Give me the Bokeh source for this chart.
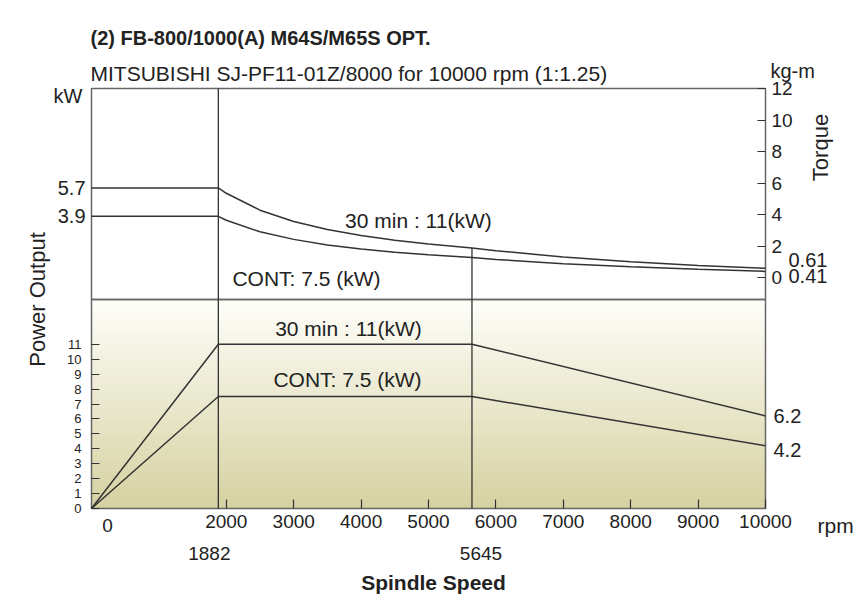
import math
import numpy as np
from bokeh.plotting import figure
from bokeh.models import Range1d, LinearAxis, FixedTicker, Label
from bokeh.embed import file_html
from bokeh.resources import INLINE

# ---------------- data ----------------
speed_power = [0, 1882, 5645, 10000]
power_30min = [0, 11, 11, 6.2]
power_cont = [0, 7.5, 7.5, 4.2]

torque_speed = [0, 1882, 2000, 2500, 3000, 3500, 4000, 4500, 5000, 5645,
                6000, 7000, 8000, 9000, 10000]
torque_30min = [5.7, 5.7, 5.36, 4.29, 3.57, 3.06, 2.68, 2.38, 2.14, 1.90,
                1.72, 1.32, 1.02, 0.79, 0.61]
torque_cont = [3.9, 3.9, 3.65, 2.92, 2.44, 2.09, 1.83, 1.62, 1.46, 1.29,
               1.17, 0.90, 0.70, 0.54, 0.41]

x_ticks = [2000, 3000, 4000, 5000, 6000, 7000, 8000, 9000, 10000]
power_ticks = [0, 1, 2, 3, 4, 5, 6, 7, 8, 9, 10, 11]
torque_ticks = [0, 2, 4, 6, 8, 10, 12]
base_speeds = [1882, 5645]

# ---------------- layout (pixels of the chart box inside the canvas) ----------------
W, H = 855, 594
PX_L, PX_R = 91, 765
PX_T, PX_MID, PX_B = 88, 299, 508
X_MIN, X_MAX = 0, 10000
KW_MIN, KW_MAX = 0.0, 14.0        # power panel
TQ_MIN, TQ_MAX = -1.37, 12.0      # torque panel

sx = (X_MAX - X_MIN) / (PX_R - PX_L)
skw = (KW_MAX - KW_MIN) / (PX_B - PX_MID)
stq = (TQ_MAX - TQ_MIN) / (PX_MID - PX_T)
x_range = Range1d(X_MIN - PX_L * sx, X_MAX + (W - PX_R) * sx)
kw_range = Range1d(KW_MIN - (H - PX_B) * skw, KW_MAX + PX_MID * skw)
tq_range = Range1d(TQ_MIN - (H - PX_MID) * stq, TQ_MAX + PX_T * stq)

# ---------------- styling ----------------
FONT = "Liberation Sans"
TXT = "#222222"
LINE = "#333333"
EDGE = "#666666"

p = figure(width=W, height=H, output_backend="svg", toolbar_location=None,
           x_range=x_range, y_range=kw_range, min_border=0,
           min_border_left=0, min_border_right=0, min_border_top=0, min_border_bottom=0)
p.extra_y_ranges = {"torque": tq_range}
p.grid.visible = False
p.outline_line_color = None
p.background_fill_color = "white"
p.border_fill_color = "white"

# gradient background of power panel (decoration)
N = 80
edges = np.linspace(KW_MIN, KW_MAX, N + 1)
top_rgb = np.array([254, 254, 250])
bot_rgb = np.array([214, 209, 160])
cols = []
for i in range(N):
    t = (i + 0.5) / N
    c = bot_rgb * (1 - t) + top_rgb * t
    cols.append("#%02x%02x%02x" % tuple(int(round(v)) for v in c))
p.quad(left=X_MIN, right=X_MAX, bottom=edges[:-1], top=edges[1:],
       fill_color=cols, line_color=cols, line_width=1)

# chart boxes
p.quad(left=[X_MIN], right=[X_MAX], bottom=[KW_MIN], top=[KW_MAX],
       fill_color=None, line_color=EDGE, line_width=1.5)
p.quad(left=[X_MIN], right=[X_MAX], bottom=[TQ_MIN], top=[TQ_MAX], y_range_name="torque",
       fill_color=None, line_color=EDGE, line_width=1.5)

# base speed lines
p.segment(x0=base_speeds, y0=[KW_MIN, KW_MIN], x1=base_speeds, y1=[KW_MAX, KW_MAX],
          line_color=LINE, line_width=1.3)
p.segment(x0=base_speeds, y0=[TQ_MIN, TQ_MIN], x1=base_speeds,
          y1=[TQ_MAX, torque_30min[torque_speed.index(base_speeds[1])]],
          y_range_name="torque", line_color=LINE, line_width=1.3)

# power curves
p.line(speed_power, power_30min, line_color=LINE, line_width=1.5)
p.line(speed_power, power_cont, line_color=LINE, line_width=1.5)

# torque curves
p.line(torque_speed, torque_30min, y_range_name="torque", line_color=LINE, line_width=1.5)
p.line(torque_speed, torque_cont, y_range_name="torque", line_color=LINE, line_width=1.5)


def style_axis(ax, size, standoff, tick_in):
    ax.major_tick_in = tick_in
    ax.major_tick_out = 0
    ax.minor_tick_line_color = None
    ax.axis_line_color = None
    ax.major_tick_line_color = LINE
    ax.major_tick_line_width = 1.2
    ax.major_label_text_font = FONT
    ax.major_label_text_font_size = size
    ax.major_label_text_color = TXT
    ax.major_label_standoff = standoff


# axes (drawn at the chart box edges)
xa = p.xaxis[0]
xa.fixed_location = KW_MIN
xa.ticker = FixedTicker(ticks=x_ticks)
style_axis(xa, "19px", 6, 9)

ya = p.yaxis[0]
ya.fixed_location = X_MIN
ya.ticker = FixedTicker(ticks=power_ticks)
style_axis(ya, "13px", 10, 8)

ra = LinearAxis(y_range_name="torque", fixed_location=X_MAX,
                ticker=FixedTicker(ticks=torque_ticks))
style_axis(ra, "19px", 6, 8)
p.add_layout(ra, "right")


def lab(text, x, y, rng=None, dx=0, dy=0, size="20px", align="left",
        style="normal", angle=0):
    kw = {}
    if rng:
        kw["y_range_name"] = rng
    p.add_layout(Label(x=x, y=y, x_offset=dx, y_offset=dy, text=text,
                       text_font=FONT, text_font_size=size, text_color=TXT,
                       text_align=align, text_baseline="middle",
                       text_font_style=style, angle=angle, **kw))


# titles
lab("(2) FB-800/1000(A) M64S/M65S OPT.", X_MIN, TQ_MAX, "torque", dx=-1, dy=51,
    size="20px", style="bold")
lab("MITSUBISHI SJ-PF11-01Z/8000 for 10000 rpm (1:1.25)", X_MIN, TQ_MAX, "torque",
    dx=-1, dy=15, size="21px")

# units / axis titles
lab("kW", X_MIN, TQ_MAX, "torque", dx=-9, dy=-7, align="right")
lab("kg-m", X_MAX, TQ_MAX, "torque", dx=5, dy=18)
lab("Torque", X_MAX, TQ_MAX, "torque", dx=55, dy=-59, size="22px", align="center",
    angle=math.pi / 2)
lab("Power Output", X_MIN, KW_MAX, dx=-54, dy=0, size="22px", align="center",
    angle=math.pi / 2)
lab("rpm", X_MAX, KW_MIN, dx=52, dy=-17, size="21px")
lab("0", X_MIN, KW_MIN, dx=16, dy=-17, size="19px", align="center")
lab("1882", base_speeds[0], KW_MIN, dx=-9, dy=-45, size="19px", align="center")
lab("5645", base_speeds[1], KW_MIN, dx=9, dy=-45, size="19px", align="center")
lab("Spindle Speed", 5000, KW_MIN, dx=5, dy=-74, size="21px", align="center", style="bold")

# value labels
lab("5.7", X_MIN, torque_30min[0], "torque", dx=-6, align="right")
lab("3.9", X_MIN, torque_cont[0], "torque", dx=-6, align="right")
lab("0.61", X_MAX, torque_30min[-1], "torque", dx=23, dy=8)
lab("0.41", X_MAX, torque_cont[-1], "torque", dx=23, dy=-5)
lab("6.2", X_MAX, power_30min[-1], dx=8, dy=0)
lab("4.2", X_MAX, power_cont[-1], dx=8, dy=-4)

# curve labels
lab("30 min : 11(kW)", 4850, 3.63, "torque", size="21px", align="center")
lab("CONT: 7.5 (kW)", 3190, -0.04, "torque", size="21px", align="center")
lab("30 min : 11(kW)", 3813, 12.06, size="21px", align="center")
lab("CONT: 7.5 (kW)", 3798, 8.64, size="21px", align="center")

open("out.html", "w").write(file_html(p, INLINE))
